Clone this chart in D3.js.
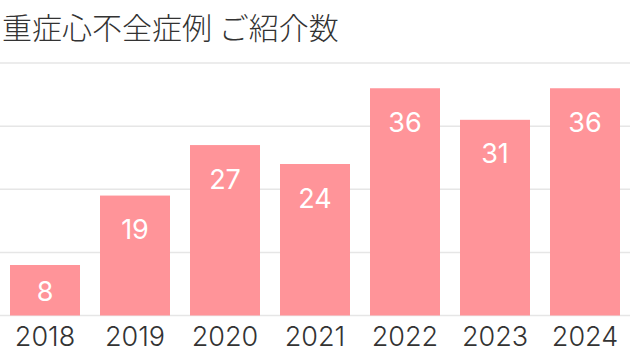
<!DOCTYPE html>
<html><head><meta charset="utf-8">
<script src="https://cdn.jsdelivr.net/npm/d3@7"></script>
<style>body{margin:0;background:#fff;}svg{display:block;}</style>
</head><body>
<svg id="chart" width="630" height="358"></svg>
<script>
const title = "重症心不全症例 ご紹介数";
const years = ["2018","2019","2020","2021","2022","2023","2024"];
const counts = [8,19,27,24,36,31,36];
const yTicks = [0,10,20,30,40];

const W = 630, H = 358;
const svg = d3.select("#chart");
const x = d3.scaleBand().domain(years).range([0, W]).paddingInner(2/9).paddingOuter(1/9);
const y = d3.scaleLinear().domain([0, 40]).range([315.5, 63]);

svg.append("text").attr("x", 2).attr("y", 39)
  .attr("font-family", "'Noto Sans CJK JP', sans-serif").attr("font-size", 30)
  .attr("font-weight", 300)
  .attr("fill", "#333").text(title);

svg.append("g").selectAll("line").data(yTicks).join("line")
  .attr("x1", 0).attr("x2", W).attr("y1", d => y(d)).attr("y2", d => y(d))
  .attr("stroke", "#e6e6e6").attr("stroke-width", 1.5);

svg.append("g").selectAll("rect").data(counts).join("rect")
  .attr("x", (d,i) => x(years[i])).attr("width", x.bandwidth())
  .attr("y", d => y(d)).attr("height", d => y(0) - y(d))
  .attr("fill", "#ff9499");

svg.append("g").selectAll("text").data(counts).join("text")
  .attr("x", (d,i) => x(years[i]) + x.bandwidth()/2)
  .attr("y", d => Math.min(y(d) + 34, y(0) - 24))
  .attr("text-anchor", "middle").attr("dominant-baseline", "central")
  .attr("font-family", "Inter, sans-serif").attr("font-size", 27)
  .attr("fill", "#fff").text(d => d);

const xAxis = svg.append("g").attr("transform", `translate(0,${y(0)})`)
  .call(d3.axisBottom(x).tickSize(0).tickPadding(11));
xAxis.select(".domain").remove();
xAxis.selectAll("text").attr("font-family", "Inter, sans-serif").attr("font-size", 27)
  .attr("font-weight", 300)
  .attr("fill", "#333").attr("dy", "0.71em");
</script>
</body></html>
